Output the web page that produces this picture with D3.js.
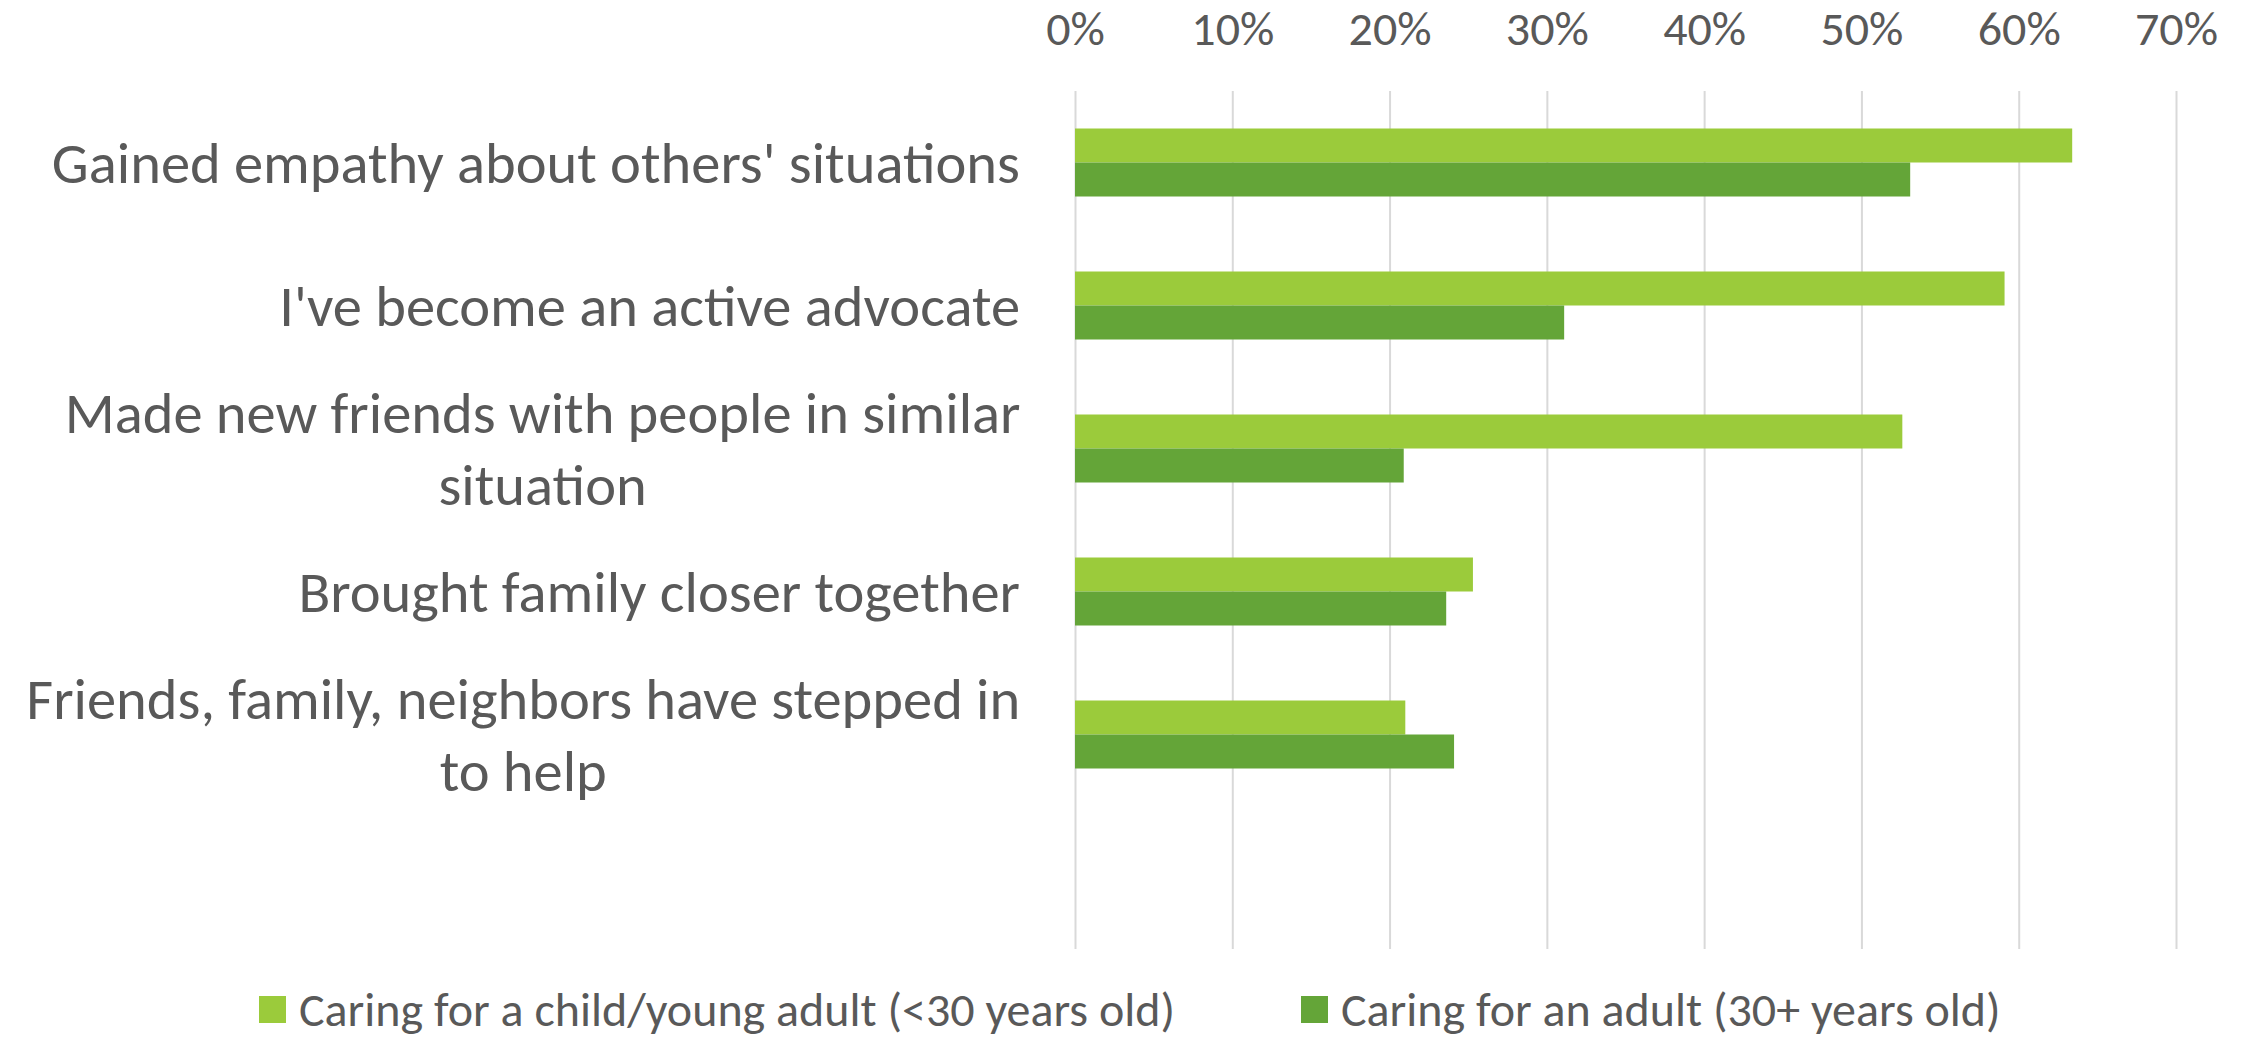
<!DOCTYPE html>
<html>
<head>
<meta charset="utf-8">
<script src="https://cdn.jsdelivr.net/npm/d3@7"></script>
<style>
  html, body { margin: 0; padding: 0; background: #ffffff; }
  svg { display: block; }
  text { font-family: Carlito, Calibri, Lato, "Open Sans", sans-serif; fill: #595959; }
</style>
</head>
<body>
<svg id="chart" width="2246" height="1040"></svg>
<script>
const categories = [
  ["Gained empathy about others' situations"],
  ["I've become an active advocate"],
  ["Made new friends with people in similar", "situation"],
  ["Brought family closer together"],
  ["Friends, family, neighbors have stepped in", "to help"]
];
const seriesNames = [
  "Caring for a child/young adult (<30 years old)",
  "Caring for an adult (30+ years old)"
];
const childValues = [0.634, 0.591, 0.526, 0.253, 0.210];
const adultValues = [0.531, 0.311, 0.209, 0.236, 0.241];
const tickValues = [0, 0.1, 0.2, 0.3, 0.4, 0.5, 0.6, 0.7];
const colors = ["#9BCB3B", "#64A538"];

const FS = 48;
const FS_CAT = 58.5;
const svg = d3.select("#chart");

const x = d3.scaleLinear().domain([0, 0.7]).range([1075, 2176]);
const slots = categories.map((c, i) => "c" + i).concat(["blank"]);
const y = d3.scaleBand().domain(slots).range([91, 949]).paddingInner(0).paddingOuter(0);
const ySub = d3.scaleBand().domain([0, 1]).range([0, y.bandwidth()]).paddingInner(0).paddingOuter(1.103);

// gridlines + tick labels
const axis = d3.axisTop(x).tickValues(tickValues).tickFormat(d3.format(".0%"))
  .tickSize(-(949 - 91)).tickPadding(46);
const gA = svg.append("g").attr("transform", "translate(0,91)").call(axis);
gA.select(".domain").remove();
gA.selectAll(".tick line").attr("stroke", "#d9d9d9").attr("stroke-width", 2);
gA.selectAll(".tick text").attr("font-size", FS).attr("fill", "#595959")
  .style("font-family", "Carlito, Calibri, Lato, 'Open Sans', sans-serif");

// bars
const seriesData = [childValues, adultValues];
seriesData.forEach((vals, s) => {
  svg.append("g").selectAll("rect").data(vals).join("rect")
    .attr("x", x(0))
    .attr("y", (d, i) => y("c" + i) + ySub(s))
    .attr("width", d => x(d) - x(0))
    .attr("height", ySub.bandwidth())
    .attr("fill", colors[s]);
});

// category labels: block right-aligned at 1020, lines centered within block
const lineH = 72;
const labelG = svg.append("g");
categories.forEach((lines, i) => {
  const cy = y("c" + i) + y.bandwidth() / 2;
  const t = labelG.append("text").attr("font-size", FS_CAT).attr("text-anchor", "middle");
  const spans = lines.map((ln, j) => t.append("tspan").text(ln));
  let maxW = 0;
  spans.forEach(sp => { maxW = Math.max(maxW, sp.node().getComputedTextLength()); });
  const cx = 1020 - maxW / 2;
  const n = lines.length;
  spans.forEach((sp, j) => {
    sp.attr("x", cx).attr("y", cy + (j - (n - 1) / 2) * lineH).attr("dy", "0.35em");
  });
});

// legend
const legendItems = [
  { name: seriesNames[0], color: colors[0], sx: 259 },
  { name: seriesNames[1], color: colors[1], sx: 1301 }
];
const lg = svg.append("g");
legendItems.forEach(it => {
  lg.append("rect").attr("x", it.sx).attr("y", 996).attr("width", 27).attr("height", 27).attr("fill", it.color);
  lg.append("text").attr("x", it.sx + 40).attr("y", 1009).attr("dy", "0.35em")
    .attr("font-size", FS).text(it.name);
});
</script>
</body>
</html>
